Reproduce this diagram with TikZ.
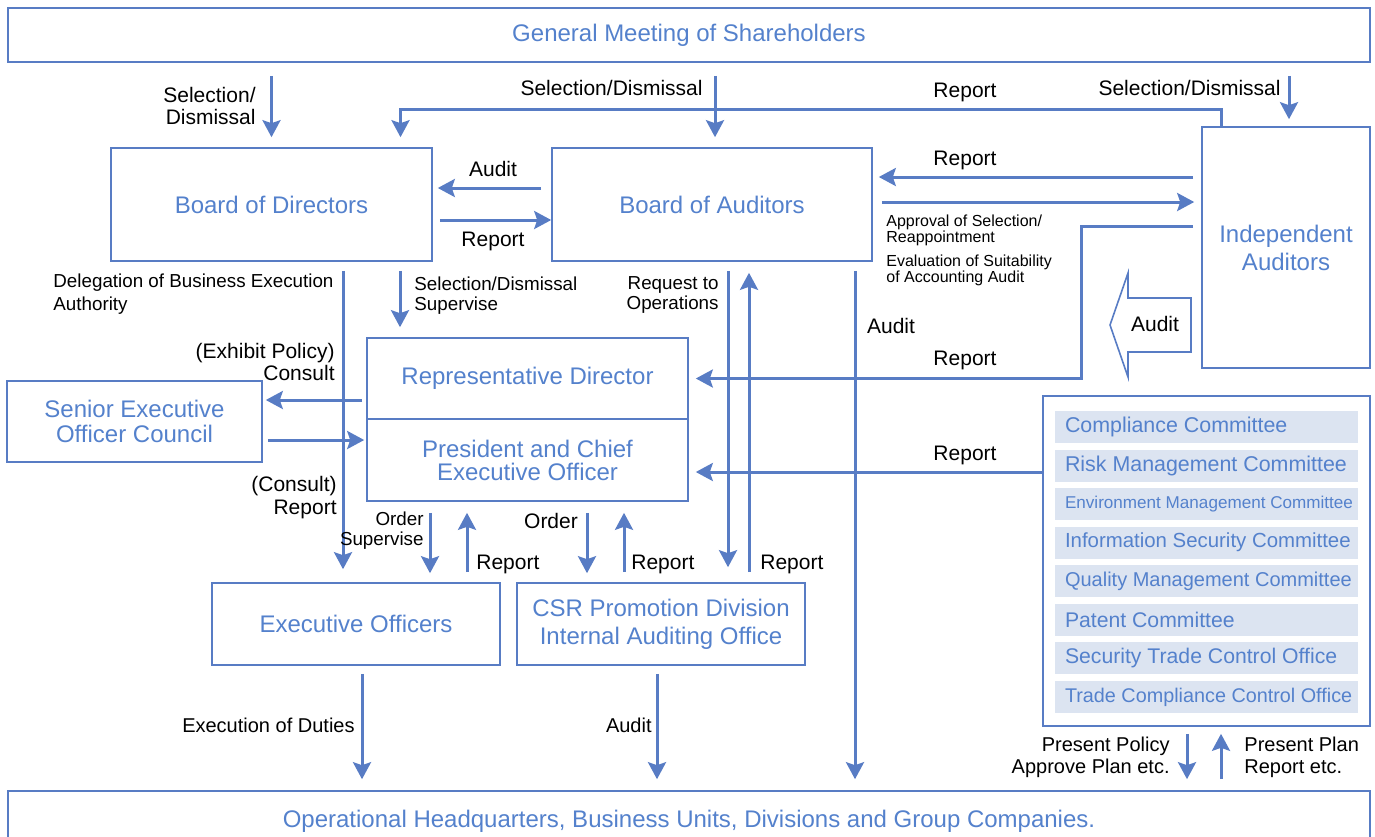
\documentclass[tikz,border=0pt]{standalone}
\usepackage{fontspec}
\setmainfont{Liberation Sans}
\usetikzlibrary{arrows.meta}
\definecolor{ln}{RGB}{88,124,196}
\definecolor{tx}{RGB}{84,129,204}
\definecolor{cf}{RGB}{220,228,241}

\begin{document}
\begin{tikzpicture}[x=0.5pt, y=-0.5pt,
    box/.style={draw=ln, line width=0.8pt, text=tx, align=center, inner sep=0pt,
      font=\fontsize{12pt}{13.5pt}\selectfont},
    cbar/.style={fill=cf, inner sep=0pt, minimum width=151.5pt, minimum height=16pt},
    ctxt/.style={text=tx, inner sep=0pt},
    ar/.style={draw=ln, line width=1.5pt, -{Stealth[length=8.5pt, width=9pt, inset=1.5pt]}},
    lbl/.style={inner sep=0pt, font=\fontsize{10.5pt}{11pt}\selectfont},
    lblm/.style={inner sep=0pt, font=\fontsize{10pt}{11pt}\selectfont},
    lbls/.style={inner sep=0pt, font=\fontsize{9.4pt}{10pt}\selectfont},
    lblt/.style={inner sep=0pt, font=\fontsize{8pt}{8pt}\selectfont}]

  \useasboundingbox (0,0) rectangle (1375,836);
  \clip (0,0) rectangle (1375,836);

  % boxes
  \node[box, minimum width=681pt, minimum height=27pt] (gm) at (689,35) {General Meeting of Shareholders};
  \node[box, minimum width=160.5pt, minimum height=56.5pt] (bod) at (271.5,204.5) {Board of Directors};
  \node[box, minimum width=160pt, minimum height=56.5pt] (boa) at (712,204.5) {Board of Auditors};
  \node[box, minimum width=84pt, minimum height=120.5pt, font=\fontsize{12pt}{14pt}\selectfont] (ia) at (1286,247.5) {Independent\\Auditors};
  \node[box, minimum width=160.5pt, minimum height=40.5pt] (rep) at (527.5,378.5) {Representative Director};
  \node[box, minimum width=160.5pt, minimum height=41pt, font=\fontsize{12pt}{11.5pt}\selectfont] (pres) at (527.5,460) {President and Chief\\Executive Officer};
  \node[box, minimum width=127.5pt, minimum height=40.5pt, font=\fontsize{12pt}{12.5pt}\selectfont] (seoc) at (134.5,421.5) {Senior Executive\\Officer Council};
  \node[box, minimum width=144pt, minimum height=41pt] (eo) at (356,624) {Executive Officers};
  \node[box, minimum width=144pt, minimum height=41pt, font=\fontsize{12pt}{14pt}\selectfont] (csr) at (661,624) {CSR Promotion Division\\Internal Auditing Office};
  \node[box, minimum width=163.5pt, minimum height=165pt] (comm) at (1206.5,561) {};
  \node[box, minimum width=681pt, minimum height=30pt] (ops) at (689,821) {Operational Headquarters, Business Units, Divisions and Group Companies.};

  % committees
  \foreach \i/\s/\t in {0/10.7/Compliance Committee, 1/10.7/Risk Management Committee,
      2/8.55/Environment Management Committee, 3/10.2/Information Security Committee,
      4/10/Quality Management Committee, 5/10.6/Patent Committee,
      6/10.6/Security Trade Control Office, 7/9.9/Trade Compliance Control Office} {
    \node[cbar] (c\i) at (1206.5,427+38.57*\i) {};
    \node[ctxt, anchor=west, font=\fontsize{\s pt}{12pt}\selectfont] (t\i) at ([xshift=5pt]c\i.west) {\t};
  }

  % shareholders
  \draw[ar, shorten <=6.5pt, shorten >=5pt] (gm.south -| bod.north) -- (bod.north);
  \draw[ar, shorten <=6.5pt, shorten >=5pt] ([xshift=1.5pt]gm.south -| boa.north) -- ([xshift=1.5pt]boa.north);
  \draw[ar, shorten <=6.5pt, shorten >=3.5pt] ([xshift=1.5pt]gm.south -| ia.north) -- ([xshift=1.5pt]ia.north);
  \draw[ar, shorten >=5pt] ([xshift=-32.5pt]ia.north) -- ++(0,-17) -| ([xshift=64.5pt]bod.north);

  % auditors
  \draw[ar, shorten <=5pt, shorten >=2.5pt] ([yshift=8.25pt]boa.west) -- ([yshift=8.25pt]boa.west -| bod.east);
  \draw[ar, shorten <=3.5pt] ([yshift=-7.75pt]bod.east) -- ([yshift=-7.75pt]bod.east -| boa.west);
  \draw[ar, shorten <=4pt, shorten >=3pt] ([yshift=35.25pt]ia.west) -- ([yshift=35.25pt]ia.west -| boa.east);
  \draw[ar, shorten <=4.5pt, shorten >=3.5pt] ([yshift=22.75pt]ia.west -| boa.east) -- ([yshift=22.75pt]ia.west);
  \draw[ar, shorten <=4pt, shorten >=3.5pt] ([yshift=10.75pt]ia.west) -- ++(-120,0) |- (rep.east);
  \draw[ln, line width=0.8pt, fill=white] (1110,325) -- (1128,273) -- (1128,298) -- (1191,298)
    -- (1191,352) -- (1128,352) -- (1128,377) -- cycle;

  % directors and president
  \draw[ar, shorten <=4.5pt, shorten >=6.5pt] ([xshift=35.75pt]bod.south) -- ([xshift=35.75pt]bod.south |- eo.north);
  \draw[ar, shorten <=4.5pt, shorten >=5pt] ([xshift=64.25pt]bod.south) -- ([xshift=64.25pt]bod.south |- rep.north);
  \draw[ar, shorten <=2pt, shorten >=1.5pt] ([yshift=-10.75pt]rep.west) -- ([yshift=-10.75pt]rep.west -| seoc.east);
  \draw[ar, shorten <=2.5pt, shorten >=1pt] ([yshift=10pt]pres.west -| seoc.east) -- ([yshift=10pt]pres.west);
  \draw[ar, shorten <=5.5pt, shorten >=4.5pt] ([xshift=-48.75pt]pres.south) -- ([xshift=-48.75pt]pres.south |- eo.north);
  \draw[ar, shorten <=5pt, shorten >=5.5pt] ([xshift=-30.25pt]pres.south |- eo.north) -- ([xshift=-30.25pt]pres.south);
  \draw[ar, shorten <=5.5pt, shorten >=4.5pt] ([xshift=29.75pt]pres.south) -- ([xshift=29.75pt]pres.south |- csr.north);
  \draw[ar, shorten <=5pt, shorten >=5.5pt] ([xshift=48.25pt]pres.south |- csr.north) -- ([xshift=48.25pt]pres.south);
  \draw[ar, shorten <=4.5pt, shorten >=7.5pt] ([xshift=8pt]boa.south) -- ([xshift=8pt]boa.south |- csr.north);
  \draw[ar, shorten <=5pt, shorten >=5.5pt] ([xshift=18.5pt]boa.south |- csr.north) -- ([xshift=18.5pt]boa.south);
  \draw[ar, shorten <=4.5pt, shorten >=5.5pt] ([xshift=71.5pt]boa.south) -- ([xshift=71.5pt]boa.south |- ops.north);
  \draw[ar, shorten >=3.5pt] ([yshift=-6pt]pres.east -| comm.west) -- ([yshift=-6pt]pres.east);

  % operations
  \draw[ar, shorten <=4pt, shorten >=5.5pt] ([xshift=3pt]eo.south) -- ([xshift=3pt]eo.south |- ops.north);
  \draw[ar, shorten <=4pt, shorten >=5.5pt] ([xshift=-2pt]csr.south) -- ([xshift=-2pt]csr.south |- ops.north);
  \draw[ar, shorten <=3.5pt, shorten >=5.5pt] ([xshift=-9.75pt]comm.south) -- ([xshift=-9.75pt]comm.south |- ops.north);
  \draw[ar, shorten <=5.5pt, shorten >=3.5pt] ([xshift=7.25pt]comm.south |- ops.north) -- ([xshift=7.25pt]comm.south);

  % labels
  \node[lbl, anchor=east, align=right] (lsd1) at (256,106) {Selection/\\Dismissal};
  \node[lbl, anchor=east] (lsd2) at (703,88) {Selection/Dismissal};
  \node[lbl] (lrep1) at (965,92) {Report};
  \node[lbl, anchor=east] (lsd3) at (1281,88) {Selection/Dismissal};
  \node[lbl] (laud1) at (493,169) {Audit};
  \node[lbl] (lrep2) at (493,241) {Report};
  \node[lbl] (lrep3) at (965,160) {Report};
  \node[lblt, anchor=west, align=left] (lapp) at (886,230) {Approval of Selection/\\Reappointment};
  \node[lblt, anchor=west, align=left] (leval) at (886,270) {Evaluation of Suitability\\of Accounting Audit};
  \node[lbl] (lrep4) at (965,360) {Report};
  \node[lbl] (laud2) at (1155,324) {Audit};
  \node[lbl] (laud3) at (891,326) {Audit};
  \node[lbls, anchor=west, align=left, font=\fontsize{9.4pt}{11.5pt}\selectfont] (ldel) at (53,294) {Delegation of Business Execution\\Authority};
  \node[lbls, anchor=west, align=left] (lsel) at (414,296) {Selection/Dismissal\\Supervise};
  \node[lbls, anchor=east, align=right] (lreq) at (719,295) {Request to\\Operations};
  \node[lbl, anchor=east, align=right] (lcons) at (335,362) {(Exhibit Policy)\\Consult};
  \node[lbl, anchor=east, align=right, font=\fontsize{10.5pt}{11.5pt}\selectfont] (lcrep) at (337,498) {(Consult)\\Report};
  \node[lbls, anchor=east, align=right] (lord1) at (424,531) {Order\\Supervise};
  \node[lbl, anchor=west] (lrep5) at (476,564) {Report};
  \node[lbl] (lord2) at (551,521) {Order};
  \node[lbl, anchor=west] (lrep6) at (631,564) {Report};
  \node[lbl, anchor=west] (lrep7) at (760,564) {Report};
  \node[lbl] (lrep8) at (965,455) {Report};
  \node[lblm, anchor=east] (lexe) at (355,725) {Execution of Duties};
  \node[lblm, anchor=east] (laud4) at (652,725) {Audit};
  \node[lblm, anchor=east, align=right] (lpol) at (1170,757) {Present Policy\\Approve Plan etc.};
  \node[lblm, anchor=west, align=left] (lplan) at (1244,757) {Present Plan\\Report etc.};
\end{tikzpicture}
\end{document}
